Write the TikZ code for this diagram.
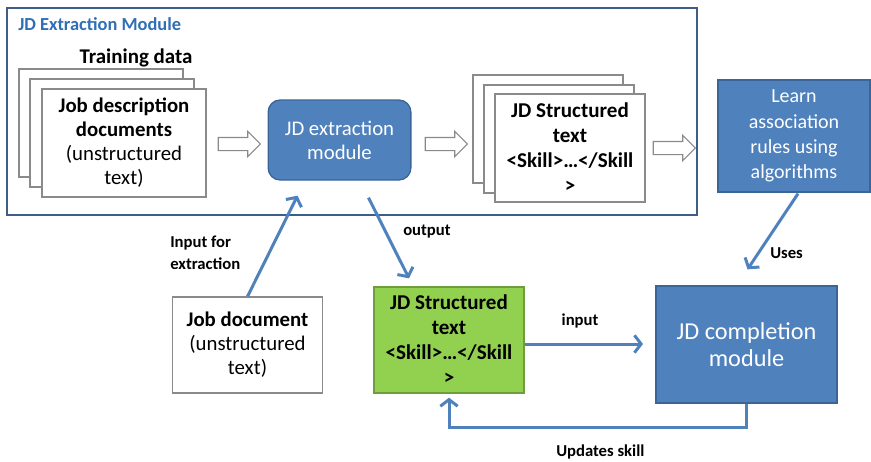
\documentclass[tikz,border=0pt]{standalone}
\usepackage{fontspec}
\setmainfont{Carlito}
\usetikzlibrary{arrows.meta, positioning, shapes.arrows, calc}
\definecolor{boxblue}{HTML}{4F81BD}
\definecolor{boxedge}{HTML}{3A6596}
\definecolor{framecol}{HTML}{3D5E8C}
\definecolor{titleblue}{HTML}{2F6FB5}
\definecolor{leafgreen}{HTML}{92D050}
\definecolor{leafedge}{HTML}{6E9E3C}
\definecolor{docgray}{HTML}{8A8A8A}
\tikzset{
  doc/.style={draw=docgray, fill=white, line width=0.8pt},
  bluebox/.style={draw=boxedge, fill=boxblue, line width=1pt, text=white, align=center},
  flow/.style={draw=boxblue, line width=2.25pt, -{Straight Barb[length=5pt,width=13pt]}},
  hollow/.style={single arrow, draw=docgray, fill=white, line width=0.8pt, inner sep=4.5pt,
    single arrow head extend=4.5pt, minimum height=31.5pt},
  lbl/.style={font=\fontsize{12.5}{16.5}\selectfont\bfseries, align=left, inner sep=0pt}
}
\def\bigtxt{\fontsize{15.6}{18}\selectfont}

\begin{document}
\begin{tikzpicture}[x=0.75pt, y=-0.75pt]
\useasboundingbox (0,0) rectangle (871,461);

% extraction module frame
\draw[framecol, line width=1.6pt] (7,8) rectangle (697,215);
\node[anchor=west, inner sep=0pt, text=titleblue, font=\fontsize{13.8}{16}\selectfont\bfseries] (title) at (18,24) {JD Extraction Module};
\node[font=\fontsize{15.7}{18}\selectfont\bfseries] (train) at (136,58) {Training data};

% training documents stack
\node[doc, minimum width=123pt, minimum height=81pt] (jdback) at (101,123) {};
\node[doc, minimum width=123pt, minimum height=81pt] (jdmid) at (112,133) {};
\node[doc, minimum width=123pt, minimum height=81pt, align=center, font=\bigtxt] (jddoc) at (124,143)
  {\textbf{Job description}\\\textbf{documents}\\(unstructured\\text)};

\node[hollow] (h1) at (236,144) {};
\node[bluebox, rounded corners=9pt, minimum width=107pt, minimum height=60pt, font=\bigtxt] (extbox) at (339.5,140)
  {JD extraction\\module};
\node[hollow] (h2) at (443,144) {};

% structured text stack
\node[doc, minimum width=112.5pt, minimum height=81pt] (stback) at (548,129) {};
\node[doc, minimum width=112.5pt, minimum height=81pt] (stmid) at (559,139) {};
\node[doc, minimum width=112.5pt, minimum height=81pt, align=center, font=\fontsize{15.8}{18.75}\selectfont\bfseries] (stdoc) at (570,148)
  {JD Structured\\text\\<Skill>…</Skill\\>};

\node[hollow] (h3) at (671,148) {};
\node[bluebox, minimum width=114pt, minimum height=84pt, font=\fontsize{15}{19}\selectfont] (learn) at (794,136)
  {Learn\\association\\rules using\\algorithms};

% lower row
\node[doc, minimum width=112pt, minimum height=72pt, align=center, font=\bigtxt] (jobdoc) at (247.5,345)
  {\textbf{Job document}\\(unstructured\\text)};
\node[draw=leafedge, fill=leafgreen, line width=1pt, minimum width=112.5pt, minimum height=79.5pt,
  align=center, font=\fontsize{15.8}{18.75}\selectfont\bfseries] (green) at (449,340)
  {JD Structured\\text\\<Skill>…</Skill\\>};
\node[bluebox, minimum width=135.75pt, minimum height=87.75pt, font=\fontsize{18.2}{20}\selectfont] (comp) at (746.5,344.5)
  {JD completion\\module};

% connectors
\draw[flow] (jobdoc.north) -- ($(extbox.south)+(-42,15)$);
\draw[flow] ($(extbox.south)+(29,17)$) -- ($(green.north)+(-40,-8)$);
\draw[flow] (green.east |- 0,344) -- (643,344);
\draw[flow] ($(learn.south)+(4,1)$) -- ($(comp.north)+(1,-16)$);
\draw[flow] (comp.south) -- ++(0,24) -| ($(green.south)+(0,4)$);

\node[lbl, anchor=west] (lblin) at (170,253) {Input for\\extraction};
\node[lbl, anchor=west] (lblout) at (403,232) {output};
\node[lbl] (lblinput) at (580,321) {input};
\node[lbl, anchor=west] (lbluses) at (770,253) {Uses};
\node[lbl, anchor=west] (lblupd) at (556,452) {Updates skill};
\end{tikzpicture}
\end{document}
